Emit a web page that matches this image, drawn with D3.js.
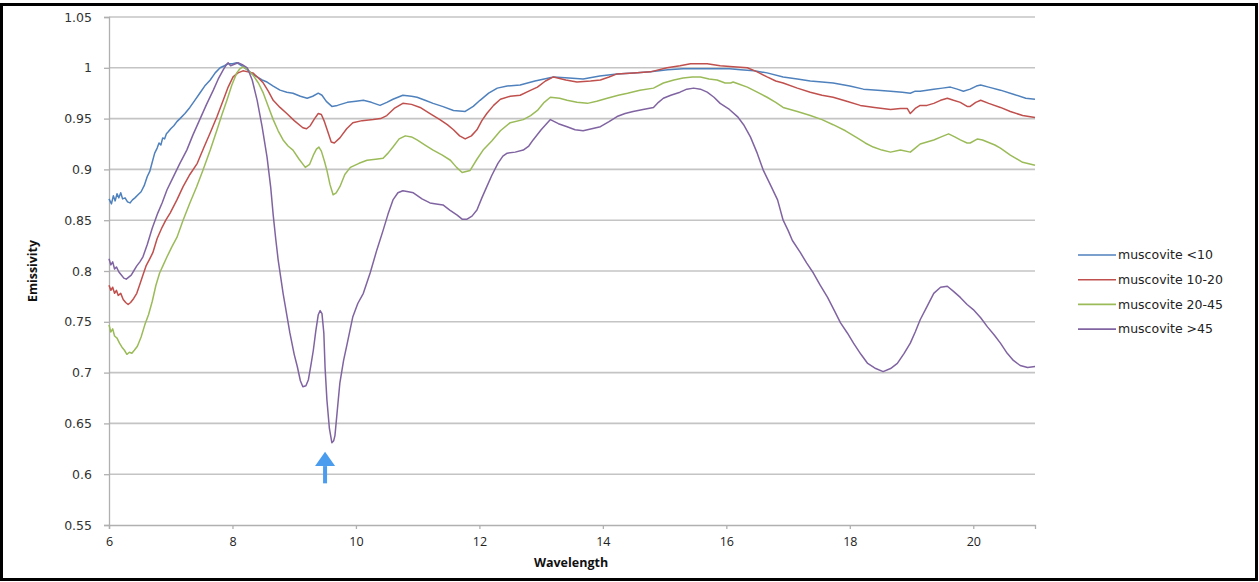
<!DOCTYPE html>
<html>
<head>
<meta charset="utf-8">
<script src="https://cdn.jsdelivr.net/npm/d3@7/dist/d3.min.js"></script>
<style>
  html, body { margin: 0; padding: 0; background: #fff; }
  svg { display: block; }
</style>
</head>
<body>
<svg id="chart" width="1259" height="582"></svg>
<script>
// Axis ticks
const wavelengthTicks = [6, 8, 10, 12, 14, 16, 18, 20];
const emissivityTicks = [0.55, 0.6, 0.65, 0.7, 0.75, 0.8, 0.85, 0.9, 0.95, 1, 1.05];

// Series names (legend order)
const seriesNames = ["muscovite <10", "muscovite 10-20", "muscovite 20-45", "muscovite >45"];

// Emissivity spectra: [wavelength, emissivity]
const muscoviteLt10 = [
  [6.00,0.871],[6.04,0.866],[6.07,0.874],[6.10,0.869],[6.13,0.876],[6.16,0.872],[6.19,0.877],[6.22,0.871],
  [6.26,0.872],[6.30,0.868],[6.34,0.867],[6.38,0.870],[6.42,0.872],[6.47,0.875],[6.52,0.878],[6.57,0.884],
  [6.62,0.893],[6.66,0.898],[6.70,0.907],[6.74,0.916],[6.78,0.921],[6.81,0.926],[6.84,0.924],[6.87,0.931],
  [6.90,0.930],[6.93,0.935],[6.96,0.937],[7.00,0.940],[7.05,0.943],[7.10,0.947],[7.15,0.950],[7.23,0.955],
  [7.31,0.961],[7.39,0.968],[7.47,0.975],[7.55,0.982],[7.64,0.988],[7.72,0.995],[7.80,1.000],[7.87,1.002],
  [7.93,1.004],[8.00,1.004],[8.07,1.005],[8.15,1.002],[8.24,0.998],[8.32,0.994],[8.40,0.991],[8.48,0.988],
  [8.56,0.986],[8.66,0.982],[8.77,0.978],[8.88,0.976],[8.98,0.975],[9.10,0.972],[9.21,0.970],[9.30,0.972],
  [9.39,0.975],[9.45,0.973],[9.52,0.967],[9.61,0.962],[9.70,0.963],[9.86,0.966],[10.00,0.967],[10.12,0.968],
  [10.25,0.966],[10.39,0.963],[10.50,0.966],[10.60,0.969],[10.76,0.973],[10.90,0.972],[10.99,0.971],[11.12,0.968],
  [11.25,0.965],[11.40,0.962],[11.58,0.958],[11.77,0.957],[11.90,0.962],[12.01,0.968],[12.15,0.975],[12.29,0.980],
  [12.45,0.982],[12.66,0.983],[12.90,0.987],[13.20,0.991],[13.45,0.990],[13.68,0.989],[13.95,0.992],[14.23,0.994],
  [14.50,0.995],[14.77,0.996],[15.05,0.998],[15.30,0.999],[15.60,0.999],[15.85,0.999],[16.05,0.999],[16.23,0.998],
  [16.45,0.997],[16.66,0.995],[16.92,0.991],[17.15,0.989],[17.36,0.987],[17.55,0.986],[17.73,0.985],[18.00,0.982],
  [18.22,0.979],[18.45,0.978],[18.66,0.977],[18.85,0.976],[18.98,0.975],[19.06,0.977],[19.14,0.977],[19.25,0.978],
  [19.36,0.979],[19.50,0.980],[19.63,0.981],[19.74,0.979],[19.84,0.977],[19.95,0.979],[20.05,0.982],[20.12,0.983],
  [20.25,0.981],[20.44,0.978],[20.65,0.974],[20.85,0.970],[21.00,0.969]
];

const muscovite10to20 = [
  [6.00,0.786],[6.03,0.781],[6.06,0.784],[6.09,0.778],[6.12,0.781],[6.15,0.776],[6.19,0.778],[6.23,0.772],
  [6.27,0.769],[6.31,0.767],[6.35,0.769],[6.40,0.773],[6.45,0.778],[6.50,0.787],[6.55,0.796],[6.60,0.805],
  [6.66,0.812],[6.71,0.818],[6.78,0.832],[6.86,0.843],[6.92,0.850],[6.99,0.857],[7.10,0.870],[7.20,0.883],
  [7.31,0.895],[7.43,0.906],[7.54,0.922],[7.64,0.936],[7.75,0.952],[7.85,0.968],[7.93,0.981],[8.01,0.991],
  [8.09,0.995],[8.17,0.997],[8.25,0.996],[8.33,0.995],[8.42,0.990],[8.50,0.985],[8.58,0.977],[8.66,0.968],
  [8.77,0.961],[8.88,0.955],[9.00,0.948],[9.14,0.941],[9.20,0.940],[9.26,0.943],[9.33,0.950],[9.39,0.955],
  [9.44,0.954],[9.49,0.947],[9.55,0.936],[9.60,0.927],[9.65,0.926],[9.74,0.931],[9.85,0.940],[9.95,0.946],
  [10.10,0.948],[10.28,0.949],[10.40,0.950],[10.50,0.953],[10.62,0.960],[10.76,0.965],[10.90,0.964],[11.04,0.961],
  [11.20,0.955],[11.36,0.949],[11.48,0.944],[11.58,0.939],[11.68,0.933],[11.77,0.930],[11.87,0.933],[11.96,0.939],
  [12.04,0.948],[12.12,0.955],[12.23,0.963],[12.34,0.969],[12.50,0.972],[12.66,0.973],[12.80,0.977],[12.94,0.981],
  [13.07,0.987],[13.20,0.991],[13.40,0.988],[13.58,0.986],[13.80,0.987],[13.96,0.988],[14.10,0.991],[14.23,0.994],
  [14.50,0.995],[14.77,0.996],[15.04,1.000],[15.25,1.002],[15.42,1.004],[15.69,1.004],[15.90,1.002],[16.11,1.001],
  [16.34,1.000],[16.50,0.996],[16.66,0.991],[16.80,0.987],[16.92,0.985],[17.15,0.980],[17.36,0.976],[17.55,0.973],
  [17.73,0.971],[17.95,0.967],[18.17,0.963],[18.40,0.961],[18.66,0.959],[18.82,0.960],[18.93,0.960],[18.98,0.955],
  [19.06,0.960],[19.14,0.963],[19.25,0.963],[19.36,0.965],[19.47,0.968],[19.58,0.970],[19.68,0.968],[19.79,0.966],
  [19.90,0.962],[19.95,0.962],[20.04,0.966],[20.12,0.968],[20.25,0.965],[20.44,0.961],[20.60,0.957],[20.80,0.953],
  [21.00,0.951]
];

const muscovite20to45 = [
  [6.00,0.747],[6.03,0.740],[6.06,0.743],[6.09,0.736],[6.13,0.734],[6.17,0.729],[6.21,0.725],[6.25,0.722],
  [6.29,0.718],[6.33,0.720],[6.37,0.719],[6.41,0.722],[6.46,0.726],[6.52,0.735],[6.58,0.747],[6.64,0.757],
  [6.70,0.770],[6.76,0.786],[6.82,0.798],[6.88,0.806],[6.94,0.814],[7.02,0.824],[7.10,0.833],[7.20,0.850],
  [7.31,0.867],[7.42,0.883],[7.52,0.899],[7.64,0.919],[7.75,0.939],[7.83,0.954],[7.91,0.968],[7.99,0.983],
  [8.07,0.995],[8.12,0.999],[8.17,1.001],[8.25,0.998],[8.33,0.993],[8.42,0.985],[8.50,0.975],[8.58,0.962],
  [8.66,0.949],[8.74,0.938],[8.82,0.929],[8.90,0.923],[8.98,0.919],[9.08,0.910],[9.18,0.902],[9.25,0.905],
  [9.31,0.914],[9.36,0.920],[9.40,0.922],[9.44,0.918],[9.49,0.908],[9.53,0.899],[9.58,0.885],[9.63,0.875],
  [9.68,0.877],[9.74,0.883],[9.82,0.895],[9.91,0.902],[10.05,0.906],[10.18,0.909],[10.32,0.910],[10.44,0.911],
  [10.52,0.916],[10.60,0.922],[10.70,0.930],[10.80,0.933],[10.90,0.932],[10.99,0.929],[11.12,0.924],[11.25,0.919],
  [11.40,0.914],[11.53,0.909],[11.63,0.902],[11.72,0.897],[11.85,0.899],[11.96,0.910],[12.06,0.919],[12.20,0.928],
  [12.34,0.938],[12.50,0.946],[12.71,0.949],[12.83,0.953],[12.94,0.958],[13.05,0.966],[13.15,0.971],[13.30,0.970],
  [13.42,0.968],[13.58,0.966],[13.75,0.965],[13.90,0.967],[14.07,0.970],[14.25,0.973],[14.40,0.975],[14.60,0.978],
  [14.82,0.980],[14.98,0.985],[15.15,0.988],[15.30,0.990],[15.45,0.991],[15.58,0.991],[15.72,0.989],[15.85,0.988],
  [15.98,0.985],[16.07,0.985],[16.11,0.986],[16.20,0.984],[16.34,0.981],[16.50,0.976],[16.66,0.971],[16.80,0.966],
  [16.92,0.961],[17.15,0.957],[17.36,0.953],[17.55,0.949],[17.73,0.944],[17.93,0.938],[18.12,0.931],[18.25,0.926],
  [18.38,0.922],[18.52,0.919],[18.66,0.917],[18.82,0.919],[18.98,0.917],[19.06,0.921],[19.14,0.925],[19.25,0.927],
  [19.36,0.929],[19.48,0.932],[19.60,0.935],[19.70,0.932],[19.79,0.929],[19.90,0.926],[19.95,0.926],[20.07,0.930],
  [20.15,0.929],[20.23,0.927],[20.35,0.924],[20.44,0.921],[20.60,0.914],[20.80,0.907],[21.00,0.904]
];

const muscoviteGt45 = [
  [6.00,0.812],[6.03,0.806],[6.06,0.809],[6.09,0.802],[6.12,0.804],[6.16,0.799],[6.20,0.796],[6.24,0.793],
  [6.28,0.792],[6.32,0.794],[6.36,0.796],[6.40,0.800],[6.45,0.805],[6.50,0.809],[6.55,0.814],[6.62,0.826],
  [6.70,0.842],[6.79,0.857],[6.86,0.867],[6.94,0.880],[7.02,0.890],[7.14,0.905],[7.26,0.919],[7.36,0.934],
  [7.47,0.949],[7.58,0.964],[7.69,0.978],[7.77,0.989],[7.85,0.998],[7.90,1.003],[7.93,1.005],[7.97,1.002],
  [8.01,1.003],[8.05,1.004],[8.09,1.005],[8.16,1.003],[8.24,1.000],[8.32,0.988],[8.40,0.968],[8.48,0.942],
  [8.56,0.912],[8.62,0.882],[8.66,0.855],[8.70,0.832],[8.74,0.811],[8.82,0.778],[8.93,0.739],[9.00,0.718],
  [9.05,0.706],[9.10,0.692],[9.14,0.686],[9.19,0.687],[9.23,0.693],[9.27,0.707],[9.31,0.722],[9.35,0.741],
  [9.39,0.757],[9.42,0.761],[9.45,0.758],[9.48,0.739],[9.50,0.705],[9.53,0.673],[9.57,0.645],[9.61,0.631],
  [9.64,0.633],[9.66,0.638],[9.70,0.664],[9.74,0.690],[9.80,0.712],[9.86,0.729],[9.95,0.755],[10.03,0.768],
  [10.12,0.778],[10.23,0.798],[10.34,0.821],[10.44,0.840],[10.52,0.856],[10.60,0.870],[10.68,0.877],[10.76,0.879],
  [10.85,0.878],[10.93,0.877],[11.07,0.871],[11.20,0.867],[11.30,0.866],[11.41,0.865],[11.52,0.860],[11.64,0.855],
  [11.72,0.851],[11.80,0.851],[11.88,0.854],[11.96,0.860],[12.04,0.872],[12.12,0.883],[12.20,0.894],[12.30,0.906],
  [12.38,0.913],[12.45,0.916],[12.58,0.917],[12.71,0.919],[12.80,0.923],[12.87,0.929],[13.00,0.939],[13.15,0.949],
  [13.28,0.945],[13.42,0.942],[13.55,0.939],[13.68,0.938],[13.82,0.940],[13.96,0.942],[14.10,0.947],[14.23,0.952],
  [14.36,0.955],[14.49,0.957],[14.65,0.959],[14.82,0.961],[14.90,0.966],[14.98,0.970],[15.10,0.973],[15.25,0.976],
  [15.36,0.979],[15.47,0.980],[15.58,0.979],[15.69,0.976],[15.80,0.971],[15.90,0.965],[16.05,0.959],[16.18,0.952],
  [16.28,0.944],[16.39,0.932],[16.50,0.916],[16.60,0.899],[16.72,0.884],[16.83,0.870],[16.92,0.850],[17.00,0.840],
  [17.07,0.830],[17.20,0.818],[17.30,0.808],[17.41,0.798],[17.52,0.786],[17.64,0.774],[17.75,0.761],[17.85,0.749],
  [17.96,0.739],[18.06,0.729],[18.18,0.718],[18.29,0.709],[18.42,0.704],[18.54,0.701],[18.66,0.704],[18.77,0.709],
  [18.88,0.719],[18.98,0.729],[19.06,0.740],[19.14,0.752],[19.25,0.765],[19.36,0.778],[19.47,0.784],[19.58,0.785],
  [19.68,0.780],[19.79,0.774],[19.90,0.767],[20.00,0.762],[20.12,0.754],[20.23,0.745],[20.34,0.737],[20.44,0.729],
  [20.55,0.719],[20.65,0.712],[20.76,0.707],[20.88,0.705],[21.00,0.706]
];

// Arrow marking the 9.6 µm absorption feature: [wavelength, tip, head base, tail]
const arrowMark = { wavelength: 9.5, tip: 0.622, base: 0.608, tail: 0.591 };

const seriesData = [muscoviteLt10, muscovite10to20, muscovite20to45, muscoviteGt45];
const seriesColors = ["#4F81BD", "#C0504D", "#9BBB59", "#8064A2"];

const svg = d3.select("#chart");

// Frame around the whole figure
svg.append("rect")
  .attr("x", 1.5).attr("y", 4.5).attr("width", 1255).attr("height", 575)
  .attr("fill", "none").attr("stroke", "#000").attr("stroke-width", 3);

const x = d3.scaleLinear().domain([6, 21]).range([109, 1035]);
const y = d3.scaleLinear().domain([0.55, 1.05]).range([525, 17]);

// Horizontal gridlines
svg.append("g")
  .selectAll("line")
  .data(emissivityTicks.slice(1))
  .join("line")
  .attr("x1", x(6)).attr("x2", x(21))
  .attr("y1", d => y(d)).attr("y2", d => y(d))
  .attr("stroke", "#c4c4c4").attr("stroke-width", 1.6);

// Y axis
const yAxis = svg.append("g")
  .attr("transform", `translate(${x(6)},0)`)
  .call(d3.axisLeft(y).tickValues(emissivityTicks).tickSize(5).tickPadding(12)
    .tickFormat(d => d3.format("")(+d.toFixed(2))));
yAxis.select(".domain").attr("stroke", "#b0b0b0").attr("stroke-width", 1.3);
yAxis.selectAll(".tick line").attr("stroke", "#b0b0b0").attr("stroke-width", 1.3);
yAxis.selectAll(".tick text")
  .attr("fill", "#333").attr("font-family", "DejaVu Sans").attr("font-size", 12.5);

// X axis
const xAxis = svg.append("g")
  .attr("transform", `translate(0,${y(0.55)})`)
  .call(d3.axisBottom(x).tickValues(wavelengthTicks).tickSize(4).tickPadding(8).tickFormat(d3.format("d")));
xAxis.select(".domain").attr("stroke", "#b0b0b0").attr("stroke-width", 1.3);
xAxis.selectAll(".tick line").attr("stroke", "#b0b0b0").attr("stroke-width", 1.3);
xAxis.selectAll(".tick text")
  .attr("fill", "#222").attr("font-family", "Open Sans").attr("font-size", 12.5);

// Axis titles
svg.append("text")
  .attr("x", 571).attr("y", 567)
  .attr("text-anchor", "middle")
  .attr("font-family", "Open Sans").attr("font-weight", "bold").attr("font-size", 12.5)
  .attr("fill", "#111")
  .text("Wavelength");

svg.append("text")
  .attr("transform", "translate(37,271) rotate(-90)")
  .attr("text-anchor", "middle")
  .attr("font-family", "Open Sans").attr("font-weight", "bold").attr("font-size", 12)
  .attr("fill", "#111")
  .attr("textLength", 62).attr("lengthAdjust", "spacingAndGlyphs")
  .text("Emissivity");

// Spectra
const line = d3.line().x(d => x(d[0])).y(d => y(d[1])).curve(d3.curveLinear);
svg.append("g")
  .selectAll("path")
  .data(seriesData)
  .join("path")
  .attr("d", line)
  .attr("fill", "none")
  .attr("stroke", (d, i) => seriesColors[i])
  .attr("stroke-width", 1.5)
  .attr("stroke-linejoin", "round");

// Legend
const legend = svg.append("g");
const legendItems = legend.selectAll("g")
  .data(seriesNames)
  .join("g")
  .attr("transform", (d, i) => `translate(1078,${255 + i * 24.7})`);
legendItems.append("line")
  .attr("x1", 0).attr("x2", 38)
  .attr("stroke", (d, i) => seriesColors[i]).attr("stroke-width", 1.6);
legendItems.append("text")
  .attr("x", 40).attr("dy", "0.35em")
  .attr("font-family", "DejaVu Sans").attr("font-size", 12.5)
  .attr("fill", "#222")
  .text(d => d);

// Arrow annotation
const ax = x(arrowMark.wavelength);
const arrow = svg.append("g").attr("fill", "#4A9DEE");
arrow.append("path")
  .attr("d", `M${ax},${y(arrowMark.tip)} L${ax + 10},${y(arrowMark.base)} L${ax - 10},${y(arrowMark.base)} Z`);
arrow.append("rect")
  .attr("x", ax - 2).attr("y", y(arrowMark.base))
  .attr("width", 4).attr("height", y(arrowMark.tail) - y(arrowMark.base));
</script>
</body>
</html>
